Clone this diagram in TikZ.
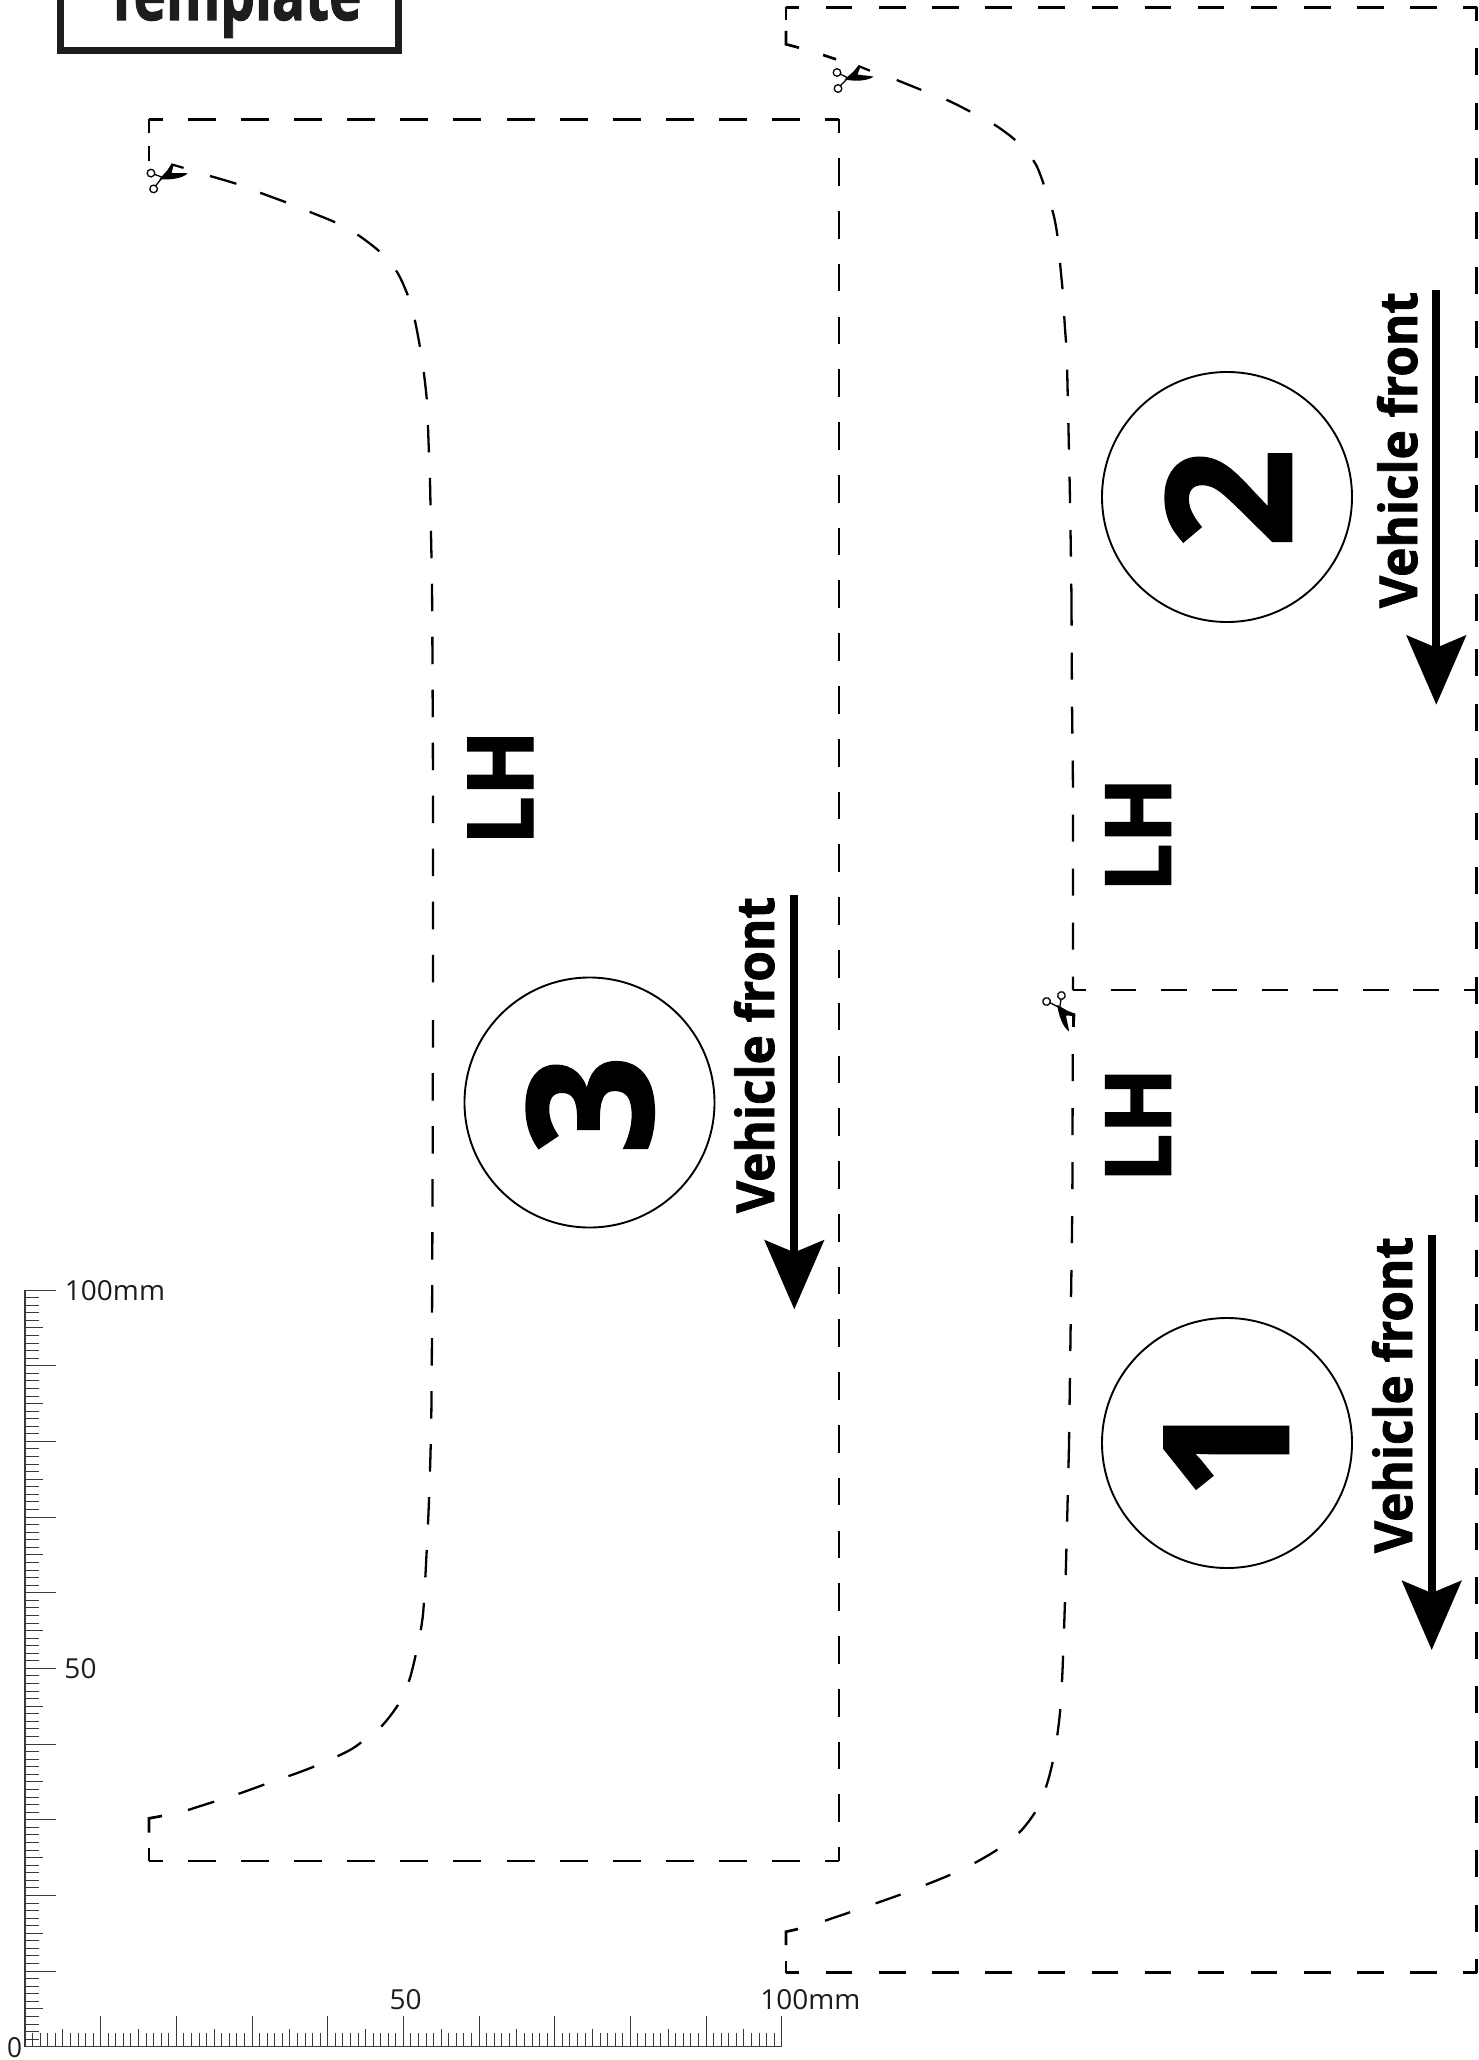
\documentclass[tikz,border=0pt]{standalone}
\usepackage{graphicx}
\usepackage{fontspec}
\setmainfont{Open Sans}
\newfontfamily\heavy[BoldFeatures={FakeBold=1.6}]{Open Sans}
\usetikzlibrary{arrows.meta}
\definecolor{tmpl}{HTML}{1D1D1B}
\definecolor{rul}{HTML}{3A3A3A}
\tikzset{
  x=1pt,y=-1pt,
  plain/.style={inner sep=0pt,outer sep=0pt},
  cut/.style={line width=2.7pt,black},
  cutr/.style={line width=3.1pt,black},
  curve/.style={line width=2.3pt,black},
  badge/.style={plain,circle,draw=black,line width=1.9pt,minimum size=250pt},
  turned/.style={plain,rotate=90,anchor=base,black},
  dir/.style={line width=8pt,-{Stealth[length=69pt,width=59pt,inset=12pt]}},
  tick/.style={line width=.9pt,rul},
  pics/scissors/.style={code={
    \draw[line width=1.3pt] (-.5,-8) circle[radius=3.8];
    \draw[line width=1.3pt] (.5,8) circle[radius=3.8];
    \draw[line width=1.3pt] (2.8,-6.5) -- (10.5,-2.5);
    \draw[line width=1.3pt] (2.4,5.5) -- (10.5,-2.5);
    \fill (7,-1) -- (16,-9) -- (20.8,-15) -- (23,-14) -- (20,-6) .. controls (26,-4.8) and (32,-5) .. (36,-3.8)
      .. controls (30,0.6) and (18,1) .. (7,-1) -- cycle;
    \draw[line width=2.2pt] (20.8,-14.5) -- (32.5,-9.8);
  }}
}
\begin{document}
\begin{tikzpicture}
\useasboundingbox (0,0) rectangle (1479,2060);
\clip (0,0) rectangle (1479,2060);
\fill[white] (0,0) rectangle (1479,2060);

% title box
\draw[tmpl,line width=7pt] (60.5,-20) rectangle (398.5,50.5);
\node[plain,anchor=base,text=tmpl] (title) at (233.5,20) {\resizebox{256pt}{56pt}{\heavy\bfseries Template}};

% panel 3
\draw[cut,dash pattern=on 28pt off 25.08pt,dash phase=14pt] (149,119.3) -- (839,119.3);
\draw[cut,dash pattern=on 27.7pt off 25.08pt,dash phase=13.85pt] (839,119.3) -- (839,1861);
\draw[cut,dash pattern=on 28pt off 25.08pt,dash phase=14pt] (149,1861) -- (839,1861);
\draw[cut] (149,119.3) -- (149,133.3);
\draw[cut] (149,145.7) -- (149,161);
\draw[cut] (149,1861) -- (149,1847.7);
\draw[cut] (149,1832.7) -- (149,1818.3) -- (162,1816);
\draw[curve,dash pattern=on 27.5pt off 25.5pt] plot[smooth,tension=.5] coordinates {(210,176) (237,184) (260,192.7) (287,202.7) (310,212) (336,222.7) (358,235) (380,252) (397,272) (408.3,296.7) (415,321) (420.3,349) (424,374) (427,402) (428,427) (429,455) (430,481) (431,534) (432,587) (432.5,668) (433,800) (433,1000)};
\draw[curve,dash pattern=on 27.5pt off 25.5pt] plot[smooth,tension=.5] coordinates {(188,1810) (213,1802) (238,1794) (265,1784.3) (300,1772) (325,1762) (350,1750) (362,1741.7) (382,1725.7) (398.7,1703.7) (409.3,1680) (416,1653.7) (421,1628.7) (424,1601) (429,1500) (431.5,1400) (432.5,1200) (433,1000)};

% panels 2 and 1
\draw[cut,dash pattern=on 26.5pt off 26.63pt,dash phase=13.25pt] (786,7.3) -- (1476.7,7.3);
\draw[cut,dash pattern=on 26.5pt off 26.63pt,dash phase=13.25pt] (786,1972.7) -- (1476.7,1972.7);
\draw[cut,dash pattern=on 25.5pt off 24.96pt,dash phase=12.75pt] (1073,990) -- (1476.7,990);
\draw[cutr,dash pattern=on 27pt off 27.6pt,dash phase=13.5pt] (1476.7,7.3) -- (1476.7,990);
\draw[cutr,dash pattern=on 27pt off 27.6pt,dash phase=13.5pt] (1476.7,990) -- (1476.7,1972.7);
\draw[cut] (786,7.3) -- (786,20);
\draw[cut] (786,31) -- (786,44.3) -- (799,47.7);
\draw[cut] (823,55) -- (836,59.3);
\draw[cut] (786,1972.7) -- (786,1961);
\draw[cut] (786,1945) -- (786,1931.7) -- (798,1929);
\draw[curve,dash pattern=on 26.5pt off 27pt] plot[smooth,tension=.5] coordinates {(896.7,80) (921.5,90) (947,100) (971,112) (996,125.7) (1017,141.7) (1035,163) (1045,188) (1053.6,215) (1058,240) (1060.5,268) (1063,295) (1064.6,322.7) (1066.4,349) (1067.3,377) (1070,500) (1071.5,600)};
\draw[curve,dash pattern=on 27pt off 27pt,dash phase=13.5pt] plot[smooth,tension=.5] coordinates {(1073,990) (1073,800) (1072,700) (1071.5,600)};
\draw[curve,dash pattern=on 27pt off 27pt] plot[smooth,tension=.5] coordinates {(1072.7,1054) (1072.3,1200) (1071,1300) (1069,1445)};
\draw[curve,dash pattern=on 26.5pt off 27pt] plot[smooth,tension=.5] coordinates {(825,1920.7) (850.7,1912) (876.7,1903) (902,1894) (927.7,1884) (952,1874) (977,1861.7) (999.7,1848) (1021,1830.7) (1037,1809) (1047.3,1783) (1055,1750) (1061,1700) (1065,1600) (1069,1445)};
\draw[curve] (1073.5,1016) -- (1073.5,1027);

% scissors
\pic at (837.5,80.5) {scissors};
\pic[rotate=6] at (152.3,181) {scissors};
\pic[rotate=-71.6] at (1054,998.5) {scissors};

% badges
\node[badge] (c3) at (589.5,1102.5) {};
\node[badge] (c2) at (1227,497) {};
\node[badge] (c1) at (1227,1443) {};
\node[turned] (n3) at (652,1105) {\fontsize{173pt}{173pt}\selectfont\heavy\bfseries 3};
\node[turned] (n2) at (1291,498.3) {\fontsize{173pt}{173pt}\selectfont\heavy\bfseries 2};
\node[turned] (n1) at (1288,1449) {\fontsize{173pt}{173pt}\selectfont\heavy\bfseries 1};

% LH labels
\node[turned] (lh3) at (533,787.5) {\resizebox{115pt}{65pt}{\heavy\bfseries LH}};
\node[turned] (lh2) at (1170.7,834.7) {\resizebox{115pt}{65pt}{\heavy\bfseries LH}};
\node[turned] (lh1) at (1170.7,1125) {\resizebox{115pt}{65pt}{\heavy\bfseries LH}};

% vehicle front
\node[turned] (v3) at (774,1055) {\resizebox{316pt}{40pt}{\heavy\bfseries Vehicle front}};
\node[turned] (v2) at (1417,450) {\resizebox{316pt}{40pt}{\heavy\bfseries Vehicle front}};
\node[turned] (v1) at (1412,1395) {\resizebox{316pt}{40pt}{\heavy\bfseries Vehicle front}};

\coordinate (a3s) at (794.3,895);
\coordinate (a3t) at (794.3,1309.4);
\coordinate (a2s) at (1436.3,290.4);
\coordinate (a2t) at (1436.3,704.7);
\coordinate (a1s) at (1431.7,1235);
\coordinate (a1t) at (1431.7,1650);
\draw[dir] (a3s) -- (a3t);
\draw[dir] (a2s) -- (a2t);
\draw[dir] (a1s) -- (a1t);

% rulers
\draw[rul,line width=1.1pt] (25,1290) -- (25,2046.7) -- (781.7,2046.7);
\foreach \i in {1,...,100}{
  \pgfmathtruncatemacro\mten{mod(\i,10)}
  \pgfmathtruncatemacro\mfive{mod(\i,5)}
  \pgfmathsetmacro\tlen{\mten==0 ? 31 : (\mfive==0 ? 18 : 13.5)}
  \draw[tick] ({25+7.567*\i},2046.7) -- ({25+7.567*\i},{2046.7-\tlen});
  \draw[tick] (25,{2046.7-7.567*\i}) -- ({25+\tlen},{2046.7-7.567*\i});
}
\node[plain,anchor=base,text=tmpl] (l100y) at (115,1300) {\resizebox{100pt}{20pt}{100mm}};
\node[plain,anchor=base,text=tmpl] (l50y) at (80.5,1678.3) {\resizebox{32pt}{20pt}{50}};
\node[plain,anchor=base,text=tmpl] (l100x) at (810.3,2009.3) {\resizebox{100pt}{20pt}{100mm}};
\node[plain,anchor=base,text=tmpl] (l50x) at (405.5,2009.3) {\resizebox{32pt}{20pt}{50}};
\node[plain,anchor=base,text=tmpl] (l0) at (14.5,2057) {\resizebox{15pt}{20pt}{0}};
\end{tikzpicture}
\end{document}
